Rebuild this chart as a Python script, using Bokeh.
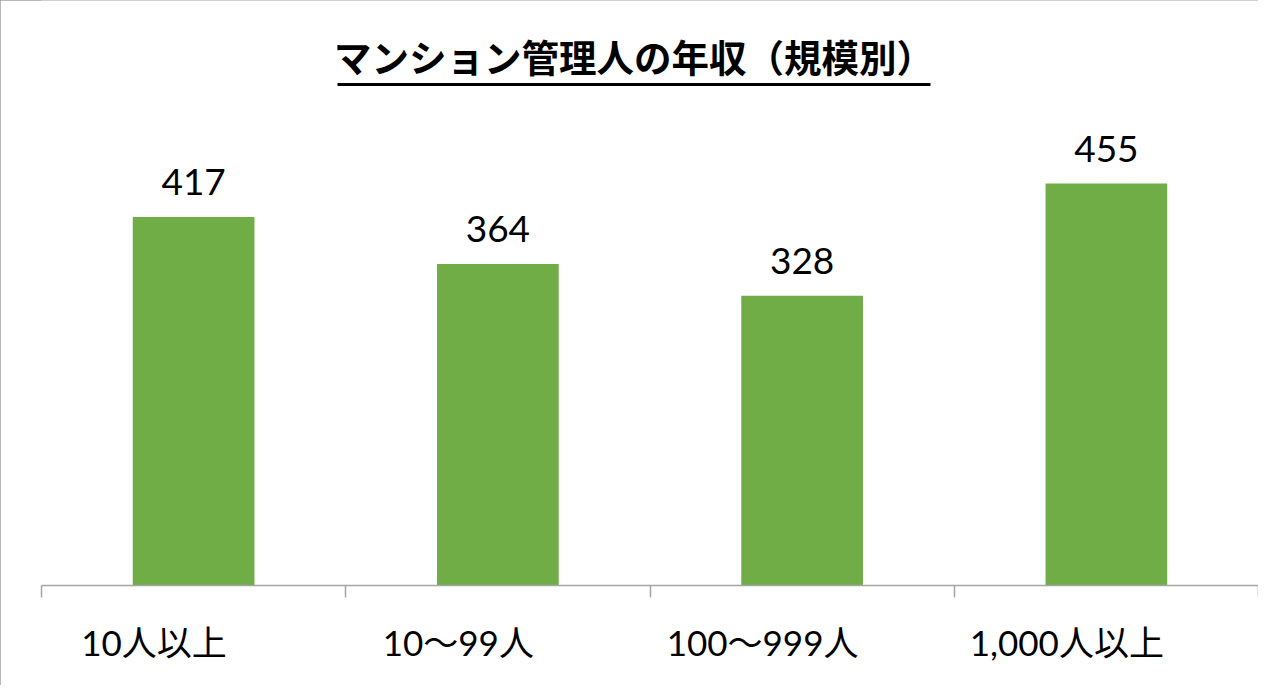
from bokeh.plotting import figure
from bokeh.models import Range1d, LinearAxis, FixedTicker
from bokeh.core.properties import value
from bokeh.embed import file_html
from bokeh.resources import INLINE
import numpy as np

# ---- data ----
title_text = "マンション管理人の年収（規模別）"
categories = ["10人以上", "10〜99人", "100〜999人", "1,000人以上"]
salaries = [417, 364, 328, 455]

# ---- layout / style constants ----
W, H = 1258, 685
FRAME_LEFT = 41
FRAME_H = 585
PX_PER_UNIT = 402 / 455          # vertical scale (pixels per value unit)
Y_TOP = FRAME_H / PX_PER_UNIT
CAT_PX = (W - FRAME_LEFT) / 4
LABEL_SHIFT = 0.13               # category labels sit slightly left of bar centres
BAR_COLOR = "#70AD47"
AXIS_COLOR = "#A5A5A5"
CJK = "Noto Sans CJK JP"

idx = np.arange(len(categories))
bar_x = idx + LABEL_SHIFT
bounds = [float(b) for b in np.arange(len(categories) + 1) + LABEL_SHIFT - 0.5]


def px_x(px):
    return (px - FRAME_LEFT) / CAT_PX + bounds[0]


def px_y(py):
    return (FRAME_H - py) / PX_PER_UNIT


p = figure(width=W, height=H, output_backend="svg", toolbar_location=None,
           x_range=Range1d(bounds[0], bounds[-1]), y_range=Range1d(0, Y_TOP),
           x_axis_location=None, y_axis_location=None,
           min_border_left=FRAME_LEFT, min_border_right=0, min_border_top=0,
           min_border_bottom=H - FRAME_H)
p.title.visible = False
p.outline_line_color = None
p.xgrid.visible = False
p.ygrid.visible = False
p.background_fill_color = "white"
p.border_fill_color = "white"
p.styles = {"outline": "1px solid #A0A0A0", "outline-offset": "-1px"}

# bars
p.vbar(x=bar_x, top=salaries, width=0.4, bottom=0, fill_color=BAR_COLOR, line_color=None)

# value labels
p.text(x=bar_x, y=salaries, text=[str(v) for v in salaries],
       text_align="center", text_baseline="alphabetic", y_offset=-35,
       text_font=value("Lato"), text_font_size="37px", text_color="black")

# title (drawn inside the canvas so it can be underlined)
p.text(x=[px_x(633.5)], y=[px_y(55)], text=[title_text], text_align="center",
       text_baseline="alphabetic", text_font=value(CJK), text_font_size="37.5px",
       text_font_style="bold", text_color="black")
p.segment(x0=[px_x(337)], x1=[px_x(930)], y0=[px_y(84)], y1=[px_y(84)],
          line_color="black", line_width=3)

# category axis
xaxis = LinearAxis(ticker=FixedTicker(ticks=[int(i) for i in idx], minor_ticks=bounds),
                   major_label_overrides={int(i): c for i, c in zip(idx, categories)})
xaxis.axis_line_color = AXIS_COLOR
xaxis.axis_line_width = 1.5
xaxis.major_tick_line_color = None
xaxis.major_tick_in = 0
xaxis.major_tick_out = 0
xaxis.minor_tick_in = 0
xaxis.minor_tick_out = 12
xaxis.minor_tick_line_color = AXIS_COLOR
xaxis.minor_tick_line_width = 1.5
xaxis.major_label_standoff = 23
xaxis.major_label_text_font = "Lato, 'Noto Sans CJK JP'"
xaxis.major_label_text_font_size = "35px"
xaxis.major_label_text_color = "black"
p.add_layout(xaxis, "below")

open("out.html", "w").write(file_html(p, INLINE))
